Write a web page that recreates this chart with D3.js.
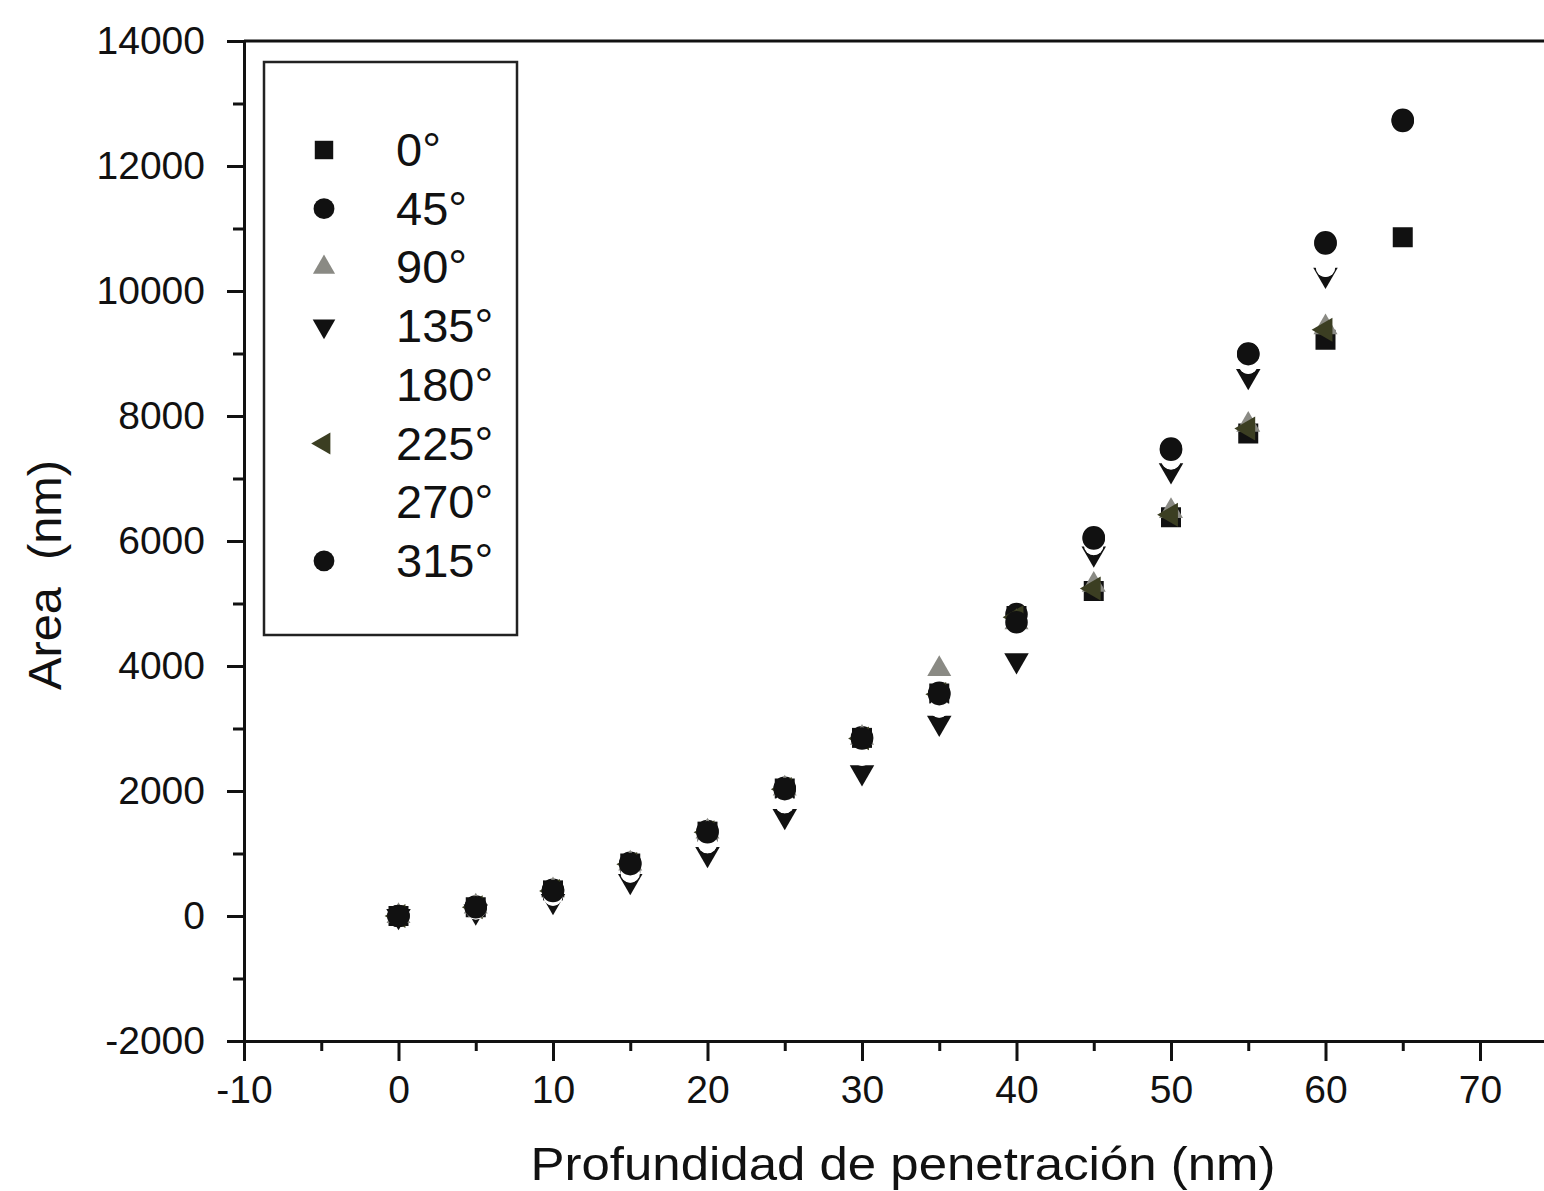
<!DOCTYPE html>
<html>
<head>
<meta charset="utf-8">
<script src="https://cdn.jsdelivr.net/npm/d3@7"></script>
<style>
  html, body { margin: 0; padding: 0; background: #fff; overflow: hidden; }
  svg { display: block; }
  text { font-family: "Liberation Sans", Arial, sans-serif; fill: #111; }
</style>
</head>
<body>
<svg id="chart" width="1544" height="1191"></svg>
<script>
// Penetration depth (nm)
const depth = [0, 5, 10, 15, 20, 25, 30, 35, 40, 45, 50, 55, 60, 65];

// Contact area (nm) for each indenter orientation
const area0   = [0, 140, 410, 840, 1350, 2040, 2850, 3560, 4800, 5200, 6380, 7720, 9220, 10860];
const area45  = [0, 150, 420, 850, 1360, 2050, 2860, 3570, 4830, 6060, 7480, 9000, 10780, 12740];
const area90  = [0, 150, 410, 840, 1350, 2040, 2850, 3950, 4700, 5300, 6480, 7860, 9420, null];
const area135 = [0, 70, 240, 560, 990, 1600, 2300, 3090, 4090, 5800, 7130, 8640, 10260, null];
const area180 = [0, 100, 320, 690, 1160, 1800, 2560, 3330, 4430, 5930, 7300, 8830, 10380, null];
const area225 = [0, 140, 400, 830, 1340, 2030, 2840, 3550, 4780, 5240, 6420, 7800, 9380, null];
const area270 = [0, 90, 310, 680, 1150, 1790, 2550, 3320, 4420, 5920, 7290, 8820, 10370, null];
const area315 = [0, 140, 400, 830, 1340, 2030, 2840, 3550, 4700, 6040, 7460, 8990, 10760, 12720];

const seriesNames = ["0°", "45°", "90°", "135°", "180°", "225°", "270°", "315°"];

// Axis ticks
const xTicks = [-10, 0, 10, 20, 30, 40, 50, 60, 70];
const yTicks = [-2000, 0, 2000, 4000, 6000, 8000, 10000, 12000, 14000];

const xTitle = "Profundidad de penetración (nm)";
const yTitle = "Area  (nm)";

// Marker styling per series
const styles = [
  { shape: "square",   fill: "#111",    size: 400 },
  { shape: "circle",   fill: "#111",    size: 400 },
  { shape: "triUp",    fill: "#8a8a84", size: 250 },
  { shape: "triDown",  fill: "#111",    size: 260 },
  { shape: "circle",   fill: "#fff",    size: 300 },
  { shape: "triLeft",  fill: "#3b3e22", size: 250 },
  { shape: "circle",   fill: "#fff",    size: 260 },
  { shape: "circle",   fill: "#111",    size: 400 }
];
const allSeries = [area0, area45, area90, area135, area180, area225, area270, area315];

const svg = d3.select("#chart");

const plotLeft = 244, plotRight = 1560, plotTop = 41, plotBottom = 1041;
const xMin = -10, pxPerUnit = 15.45;
const x = d3.scaleLinear().domain([xMin, xMin + (plotRight - plotLeft) / pxPerUnit]).range([plotLeft, plotRight]);
const y = d3.scaleLinear().domain([-2000, 14000]).range([plotBottom, plotTop]);

const plainFormat = d => String(d);

function symbolPath(shape, size) {
  const base = {
    square: d3.symbolSquare, circle: d3.symbolCircle,
    triUp: d3.symbolTriangle, triDown: d3.symbolTriangle, triLeft: d3.symbolTriangle
  }[shape];
  return d3.symbol().type(base).size(size)();
}
function symbolRotate(shape) {
  return shape === "triDown" ? 180 : shape === "triLeft" ? -90 : 0;
}

// Frame: top line
svg.append("line")
  .attr("x1", plotLeft).attr("x2", plotRight).attr("y1", plotTop).attr("y2", plotTop)
  .attr("stroke", "#111").attr("stroke-width", 3);

// Y axis with major and minor ticks
const yAxis = svg.append("g").attr("transform", `translate(${plotLeft},0)`);
yAxis.call(d3.axisLeft(y).tickValues(yTicks).tickSize(17).tickPadding(22).tickFormat(plainFormat));
yAxis.append("g").call(d3.axisLeft(y).tickValues(d3.range(-1000, 14000, 2000)).tickSize(11).tickFormat(""))
  .select(".domain").remove();
yAxis.selectAll("path.domain").attr("stroke-width", 3).attr("stroke", "#111");
yAxis.selectAll(".tick line").attr("stroke-width", 3).attr("stroke", "#111");
yAxis.selectAll(".tick text").attr("font-size", 39).attr("fill", "#111")
  .attr("font-family", "'Liberation Sans', Arial, sans-serif");

// X axis with major and minor ticks
const xAxis = svg.append("g").attr("transform", `translate(0,${plotBottom})`);
xAxis.call(d3.axisBottom(x).tickValues(xTicks).tickSize(20).tickPadding(14).tickFormat(plainFormat));
xAxis.append("g").call(d3.axisBottom(x).tickValues(d3.range(-5, 75, 10)).tickSize(10).tickFormat(""))
  .select(".domain").remove();
xAxis.selectAll("path.domain").attr("stroke-width", 3).attr("stroke", "#111");
xAxis.selectAll(".tick line").attr("stroke-width", 3).attr("stroke", "#111");
xAxis.selectAll(".tick text").attr("font-size", 39).attr("fill", "#111")
  .attr("font-family", "'Liberation Sans', Arial, sans-serif");

// Axis titles
svg.append("text")
  .attr("x", 903).attr("y", 1180)
  .attr("text-anchor", "middle").attr("font-size", 46)
  .attr("textLength", 745).attr("lengthAdjust", "spacingAndGlyphs")
  .text(xTitle);
svg.append("text")
  .attr("transform", "translate(61,575) rotate(-90)")
  .attr("text-anchor", "middle").attr("font-size", 46)
  .attr("textLength", 230).attr("lengthAdjust", "spacingAndGlyphs")
  .style("white-space", "pre")
  .text(yTitle);

// Data markers, drawn series by series
allSeries.forEach((vals, i) => {
  const st = styles[i];
  const pts = depth.map((d, j) => ({ d, v: vals[j] })).filter(p => p.v !== null);
  svg.append("g").selectAll("path")
    .data(pts).join("path")
    .attr("d", symbolPath(st.shape, st.size))
    .attr("transform", p => `translate(${x(p.d)},${y(p.v)}) rotate(${symbolRotate(st.shape)})`)
    .attr("fill", st.fill);
});

// Legend
const legend = svg.append("g");
legend.append("rect")
  .attr("x", 264).attr("y", 62).attr("width", 253).attr("height", 573)
  .attr("fill", "#fff").attr("stroke", "#222").attr("stroke-width", 2.5);
const legendY0 = 150, legendStep = 58.7;
seriesNames.forEach((name, i) => {
  const st = styles[i];
  const cy = legendY0 + i * legendStep;
  legend.append("path")
    .attr("d", symbolPath(st.shape, st.size * 0.85))
    .attr("transform", `translate(324,${cy}) rotate(${symbolRotate(st.shape)})`)
    .attr("fill", st.fill);
  legend.append("text")
    .attr("x", 396).attr("y", cy + 16)
    .attr("font-size", 47)
    .text(name);
});
</script>
</body>
</html>
